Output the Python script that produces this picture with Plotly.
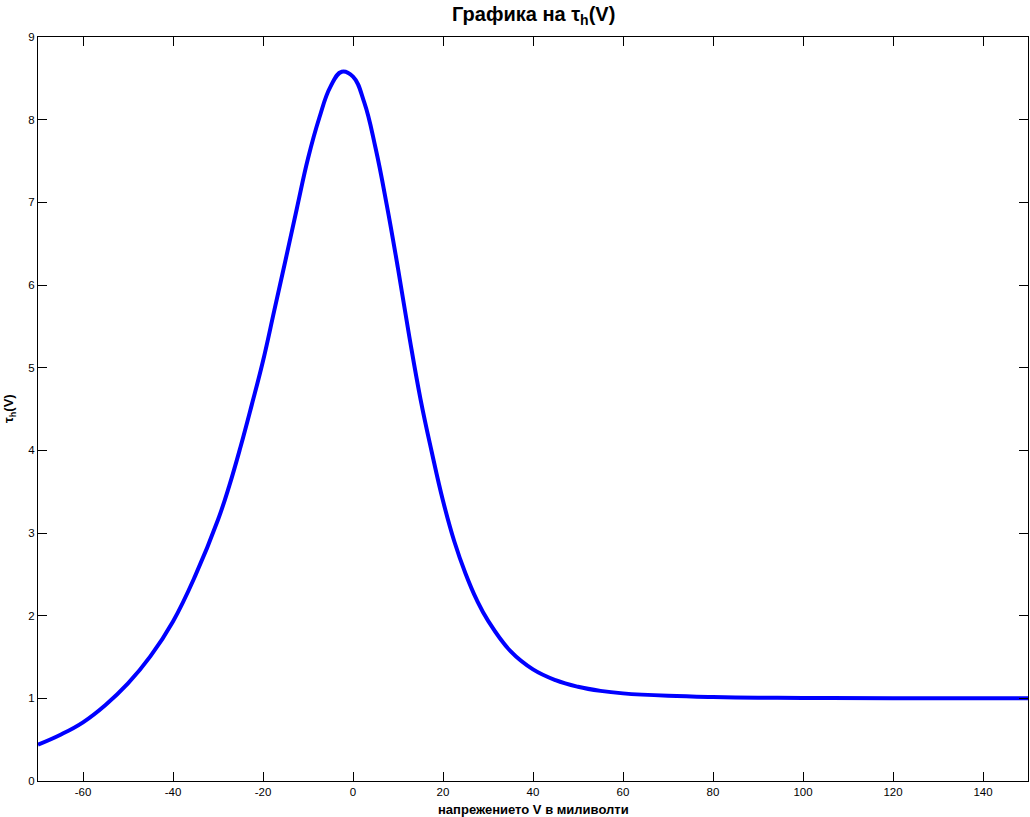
import plotly.graph_objects as go

# Voltage (mV) and tau_h(V) values
V = [-70, -65, -60, -55, -50, -45, -40, -35, -30, -27.5, -25, -22.5, -20, -17.5, -15,
     -12.5, -10, -7.5, -5, -2.5, 0, 2.5, 5, 7.5, 10, 12.5, 15, 17.5, 20, 22.5,
     25, 27.5, 30, 35, 40, 45, 50, 55, 60, 70, 80, 90, 100, 120, 150]
tau_h = [0.44, 0.56, 0.71, 0.92, 1.18, 1.51, 1.93, 2.49, 3.16, 3.57, 4.04, 4.55, 5.08,
         5.69, 6.30, 6.92, 7.53, 8.02, 8.40, 8.58, 8.52, 8.21, 7.66, 6.97, 6.20,
         5.38, 4.62, 3.98, 3.39, 2.90, 2.51, 2.19, 1.94, 1.57, 1.35, 1.22, 1.14, 1.09,
         1.06, 1.03, 1.015, 1.008, 1.004, 1.001, 1.0]

x_ticks = [-60, -40, -20, 0, 20, 40, 60, 80, 100, 120, 140]
x_tick_labels = ["-60", "-40", "-20", "0", "20", "40", "60", "80", "100", "120", "140"]
y_ticks = [0, 1, 2, 3, 4, 5, 6, 7, 8, 9]
y_tick_labels = ["0", "1", "2", "3", "4", "5", "6", "7", "8", "9"]

title_text = "Графика на τ<sub>h</sub>(V)"
x_label = "напрежението V в миливолти"
y_label = "τ<sub>h</sub>(V)"

FONT = "Liberation Sans, Arial, sans-serif"

fig = go.Figure()
fig.add_trace(go.Scatter(x=V, y=tau_h, mode="lines",
                         line=dict(color="#0000FF", width=4, shape="spline", smoothing=1.2),
                         showlegend=False, hoverinfo="x+y"))

axis_common = dict(showline=True, linecolor="black", linewidth=1, mirror="ticks",
                   ticks="inside", ticklen=9, tickcolor="black", tickwidth=1,
                   showgrid=False, zeroline=False, automargin=False,
                   tickfont=dict(family=FONT, size=11.5, color="black"))

fig.update_layout(
    width=1030, height=817,
    margin=dict(l=38, r=2, t=37, b=36, autoexpand=False),
    paper_bgcolor="white", plot_bgcolor="white",
    xaxis=dict(range=[-70, 150], tickvals=x_ticks, ticktext=x_tick_labels, **axis_common),
    yaxis=dict(range=[0, 9], tickvals=y_ticks, ticktext=y_tick_labels, **axis_common),
    annotations=[
        dict(text="<b>" + title_text + "</b>", xref="paper", yref="paper", x=0.5, y=1,
             yshift=37 - 15, xanchor="center", yanchor="middle", showarrow=False,
             font=dict(family=FONT, size=20, color="black")),
        dict(text="<b>" + x_label + "</b>", xref="paper", yref="paper", x=0.5, y=0,
             yshift=-28, xanchor="center", yanchor="middle", showarrow=False,
             font=dict(family=FONT, size=13, color="black")),
        dict(text="<b>" + y_label + "</b>", xref="paper", yref="paper", x=0, y=0.5,
             xshift=-29, xanchor="center", yanchor="middle", showarrow=False, textangle=-90,
             font=dict(family=FONT, size=13, color="black")),
    ],
)

fig.write_html("out.html", config={"displayModeBar": False},
               post_script="document.body.style.margin='0';document.body.style.overflow='hidden';")
